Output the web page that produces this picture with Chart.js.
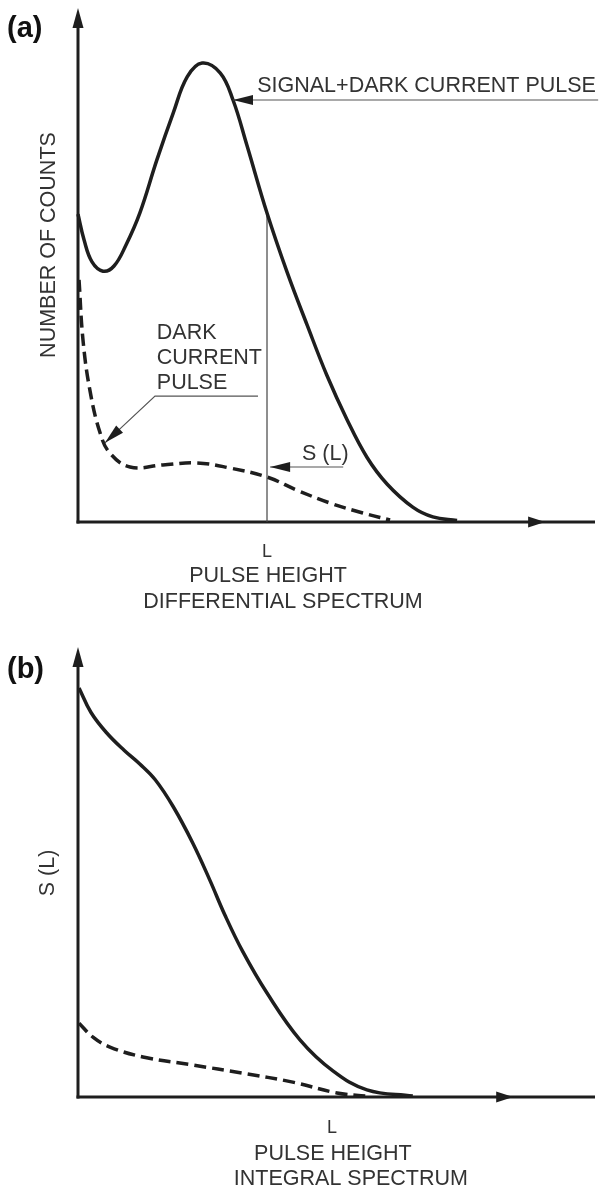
<!DOCTYPE html>
<html>
<head>
<meta charset="utf-8">
<script src="https://cdn.jsdelivr.net/npm/chart.js@4.4.1/dist/chart.umd.min.js"></script>
<style>
  html, body { margin: 0; padding: 0; background: #fff; }
  canvas { position: absolute; left: 0; }
  #diffChart { top: 0; }
  #intChart { top: 620px; }
</style>
</head>
<body>
<canvas id="diffChart" width="603" height="620"></canvas>
<canvas id="intChart" width="603" height="569"></canvas>
<script>
// (a) differential spectrum, pulse height 0..100, counts 0..100 (arbitrary units)
const diffTotalX = [0, 1.17, 2.72, 4.85, 6.99, 9.32, 12.0, 15.3, 18.5, 21.2, 24.1, 27.6, 30.1, 32.8, 36.7, 40.6, 44.5, 48.3, 52.2, 56.1, 60.0, 65.0, 68.9, 73.6];
const diffTotalY = [59.9, 54.9, 50.6, 48.8, 49.8, 53.9, 60.1, 70.4, 79.6, 86.6, 89.3, 87.4, 82.1, 73.3, 60.1, 48.6, 38.3, 28.6, 20.0, 12.6, 7.4, 2.9, 1.0, 0.3];
const diffDarkX = [0.2, 0.97, 2.3, 4.3, 6.2, 10.1, 16.5, 23.1, 29.5, 36.7, 42.5, 48.9, 55.3, 60.6];
const diffDarkY = [47.1, 35.4, 25.7, 17.3, 13.4, 10.7, 11.1, 11.5, 10.5, 8.75, 6.2, 3.7, 1.75, 0.4];

// (b) integral spectrum
const intTotalX = [0.2, 2.5, 5.5, 9.0, 12.0, 15.0, 18.5, 22.3, 25.6, 28.5, 32.0, 36.7, 43.1, 49.5, 56.1, 65.0];
const intTotalY = [90.9, 85.5, 81.0, 77.0, 74.0, 70.5, 64.5, 56.4, 48.2, 40.5, 32.3, 23.1, 12.7, 5.8, 1.6, 0.2];
const intDarkX = [0.2, 2.9, 6.2, 12.6, 22.3, 32.0, 41.7, 50.3, 56.1];
const intDarkY = [16.4, 13.3, 11.1, 8.9, 7.1, 5.3, 3.3, 0.9, 0.2];

const diffL = 36.7;
const intL = 49.3;
const diffXTitle = ['PULSE HEIGHT', 'DIFFERENTIAL SPECTRUM'];
const intXTitle = ['PULSE HEIGHT', 'INTEGRAL SPECTRUM'];

const INK = '#1e1e1e';
const TEXT = '#333';
const FONT = '"Liberation Sans", Arial, sans-serif';

function pts(xs, ys) {
  return xs.map((x, i) => ({ x: x, y: ys[i] }));
}

function arrowHead(ctx, tx, ty, dx, dy, len, half) {
  const n = Math.hypot(dx, dy);
  dx /= n; dy /= n;
  const bx = tx - dx * len, by = ty - dy * len;
  ctx.beginPath();
  ctx.moveTo(tx, ty);
  ctx.lineTo(bx - dy * half, by + dx * half);
  ctx.lineTo(bx + dy * half, by - dx * half);
  ctx.closePath();
  ctx.fill();
}

const figureDecor = {
  id: 'figureDecor',
  beforeDatasetsDraw(chart, args, o) {
    const { ctx, chartArea: a, scales: { x, y } } = chart;
    ctx.save();
    ctx.strokeStyle = INK;
    ctx.fillStyle = INK;
    ctx.lineWidth = 3;
    ctx.beginPath();
    ctx.moveTo(a.left, a.bottom + 1.5);
    ctx.lineTo(a.left, a.top + 16);
    ctx.stroke();
    arrowHead(ctx, a.left, a.top, 0, -1, 20, 5.5);
    ctx.beginPath();
    ctx.moveTo(a.left - 1.5, a.bottom);
    ctx.lineTo(a.right + 2, a.bottom);
    ctx.stroke();
    arrowHead(ctx, x.getPixelForValue(o.xArrowAt), a.bottom, 1, 0, 17, 5.5);

    if (o.lLineTo != null) {
      ctx.lineWidth = 1.2;
      ctx.strokeStyle = '#444';
      const lx = x.getPixelForValue(o.lMark);
      ctx.beginPath();
      ctx.moveTo(lx, a.bottom);
      ctx.lineTo(lx, y.getPixelForValue(o.lLineTo));
      ctx.stroke();
    }
    ctx.restore();
  },
  afterDatasetsDraw(chart, args, o) {
    const { ctx, chartArea: a, scales: { x, y } } = chart;
    ctx.save();
    // panel letter
    ctx.fillStyle = '#111';
    ctx.font = 'bold 29px ' + FONT;
    ctx.textAlign = 'left';
    ctx.textBaseline = 'alphabetic';
    ctx.fillText(o.panel, 7, o.panelBaseline);

    ctx.fillStyle = TEXT;
    // y title
    ctx.save();
    ctx.translate(o.yTitleX, o.yTitleY);
    ctx.rotate(-Math.PI / 2);
    ctx.font = '21.5px ' + FONT;
    ctx.textAlign = 'center';
    ctx.textBaseline = 'middle';
    ctx.fillText(o.yTitle, 0, 0);
    ctx.restore();

    // L tick and x titles
    const lx = x.getPixelForValue(o.lMark);
    ctx.textAlign = 'center';
    ctx.font = '18px ' + FONT;
    ctx.fillText('L', lx, a.bottom + o.lBase);
    ctx.font = '21.5px ' + FONT;
    o.xTitle.forEach((t, i) => {
      ctx.fillText(t, lx + o.xTitleShift[i], a.bottom + o.xTitleBase[i]);
    });

    // callouts
    (o.callouts || []).forEach(c => {
      ctx.strokeStyle = '#555';
      ctx.fillStyle = INK;
      ctx.lineWidth = 1.2;
      const p = c.path.map(q => [x.getPixelForValue(q[0]), y.getPixelForValue(q[1])]);
      ctx.beginPath();
      ctx.moveTo(p[0][0], p[0][1]);
      for (let i = 1; i < p.length; i++) ctx.lineTo(p[i][0], p[i][1]);
      ctx.stroke();
      arrowHead(ctx, p[0][0], p[0][1], p[0][0] - p[1][0], p[0][1] - p[1][1], 20, 5);
      ctx.fillStyle = TEXT;
      ctx.textAlign = 'left';
      ctx.font = '21.5px ' + FONT;
      const tx = x.getPixelForValue(c.textAt[0]);
      const ty = y.getPixelForValue(c.textAt[1]);
      c.lines.forEach((t, i) => ctx.fillText(t, tx, ty + i * 25));
    });
    ctx.restore();
  }
};

function lineSet(xs, ys, dashed) {
  return {
    data: pts(xs, ys),
    borderColor: INK,
    borderWidth: 3.5,
    borderDash: dashed ? [12, 6] : [],
    pointRadius: 0,
    fill: false,
    tension: 0.4,
    clip: false
  };
}

function makeChart(id, datasets, pad, decor) {
  return new Chart(document.getElementById(id).getContext('2d'), {
    type: 'line',
    data: { datasets: datasets },
    options: {
      responsive: false,
      animation: false,
      layout: { padding: pad },
      plugins: { legend: { display: false }, tooltip: { enabled: false }, figureDecor: decor },
      scales: {
        x: { type: 'linear', min: 0, max: 100, display: false },
        y: { type: 'linear', min: 0, max: 100, display: false }
      }
    },
    plugins: [figureDecor]
  });
}

const diffAtL = diffTotalY[diffTotalX.indexOf(diffL)];

makeChart('diffChart',
  [lineSet(diffTotalX, diffTotalY, false), lineSet(diffDarkX, diffDarkY, true)],
  { left: 78, right: 10, top: 8, bottom: 98 },
  {
    panel: '(a)', panelBaseline: 37,
    yTitle: 'NUMBER OF COUNTS', yTitleX: 49, yTitleY: 245,
    lMark: diffL, lLineTo: diffAtL, lBase: 35,
    xTitle: diffXTitle, xTitleShift: [1, 16], xTitleBase: [60, 86],
    xArrowAt: 90.7,
    callouts: [
      { lines: ['SIGNAL+DARK CURRENT PULSE'], path: [[30.1, 82.1], [101, 82.1]], textAt: [34.8, 83.7] },
      { lines: ['DARK', 'CURRENT', 'PULSE'], path: [[5.24, 15.4], [14.95, 24.5], [34.95, 24.5]], textAt: [15.3, 35.6] },
      { lines: ['S (L)'], path: [[37.3, 10.7], [51.5, 10.7]], textAt: [43.5, 12.1] }
    ]
  });

makeChart('intChart',
  [lineSet(intTotalX, intTotalY, false), lineSet(intDarkX, intDarkY, true)],
  { left: 78, right: 10, top: 27, bottom: 92 },
  {
    panel: '(b)', panelBaseline: 58,
    yTitle: 'S (L)', yTitleX: 48, yTitleY: 253,
    lMark: intL, lLineTo: null, lBase: 36,
    xTitle: intXTitle, xTitleShift: [1, 19], xTitleBase: [63, 88],
    xArrowAt: 84.5,
    callouts: []
  });
</script>
</body>
</html>
